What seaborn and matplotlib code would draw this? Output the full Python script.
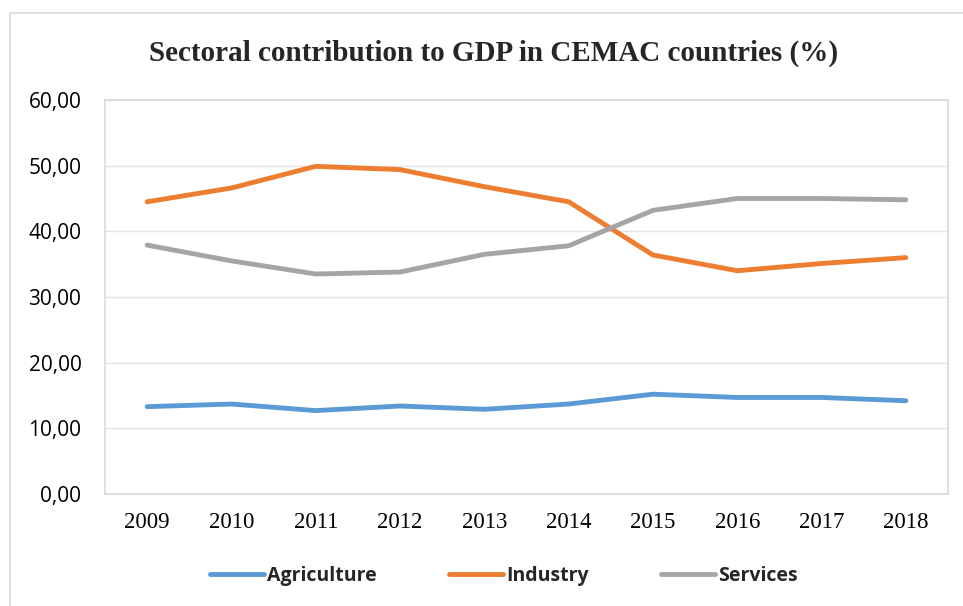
import matplotlib
matplotlib.use("Agg")
import matplotlib.pyplot as plt
import seaborn as sns
import pandas as pd
from matplotlib.patches import Rectangle
from matplotlib.ticker import FuncFormatter

years = [2009, 2010, 2011, 2012, 2013, 2014, 2015, 2016, 2017, 2018]
agriculture = [13.3, 13.7, 12.7, 13.4, 12.9, 13.7, 15.2, 14.7, 14.7, 14.2]
industry = [44.5, 46.6, 49.9, 49.4, 46.8, 44.5, 36.4, 34.0, 35.1, 36.0]
services = [37.9, 35.5, 33.5, 33.8, 36.5, 37.8, 43.2, 45.0, 45.0, 44.8]
sectors = ["Agriculture", "Industry", "Services"]
colors = ["#5B9BD5", "#ED7D31", "#A5A5A5"]

df = pd.DataFrame({
    "Year": years * 3,
    "Share": agriculture + industry + services,
    "Sector": [s for s in sectors for _ in years],
})

sns.set_style("white")
plt.rcParams["font.family"] = ["DejaVu Sans"]

fig = plt.figure(figsize=(9.63, 6.06), dpi=100)
ax = fig.add_axes([105 / 963, 1 - 494 / 606, (948 - 105) / 963, (494 - 100) / 606])

# outer chart frame
fig.patches.append(Rectangle((10 / 963, -0.05), 1.0, 1 - 13 / 606 + 0.05,
                             transform=fig.transFigure, fill=False,
                             edgecolor="#d9d9d9", linewidth=1.2, zorder=0))

sns.lineplot(data=df, x="Year", y="Share", hue="Sector", palette=colors,
             linewidth=3.5, ax=ax, legend=False, solid_capstyle="round")

ax.set_xlim(2008.5, 2018.5)
ax.set_ylim(0, 60)
ax.set_xticks(years)
ax.set_xticklabels([str(y) for y in years], family="Liberation Serif", fontsize=16.5)
ax.set_yticks(range(0, 61, 10))
ax.yaxis.set_major_formatter(FuncFormatter(lambda v, p: f"{v:.2f}".replace(".", ",")))
for lab in ax.get_yticklabels():
    lab.set_family("Open Sans")
    lab.set_fontsize(15)
ax.tick_params(axis="x", length=0, pad=13, colors="black")
ax.tick_params(axis="y", length=0, pad=17, colors="black")
ax.grid(axis="y", color="#e3e3e3", linewidth=1)
for sp in ax.spines.values():
    sp.set_visible(True)
    sp.set_color("#d9d9d9")
    sp.set_linewidth(1.2)
ax.set_xlabel("")
ax.set_ylabel("")

fig.text(0.513, 1 - 53 / 606, "Sectoral contribution to GDP in CEMAC countries (%)",
         ha="center", va="center", family="Liberation Serif", fontweight="bold",
         fontsize=21)

handles = [plt.Line2D([], [], color=c, linewidth=3.5, solid_capstyle="round") for c in colors]
leg = fig.legend(handles, sectors, loc="center", bbox_to_anchor=(0.523, 1 - 576 / 606),
                 ncol=3, frameon=False, handlelength=2.8, handletextpad=0.15,
                 columnspacing=3.7, prop={"family": "Open Sans", "weight": "bold", "size": 14})

fig.savefig("out.png", dpi=100)
